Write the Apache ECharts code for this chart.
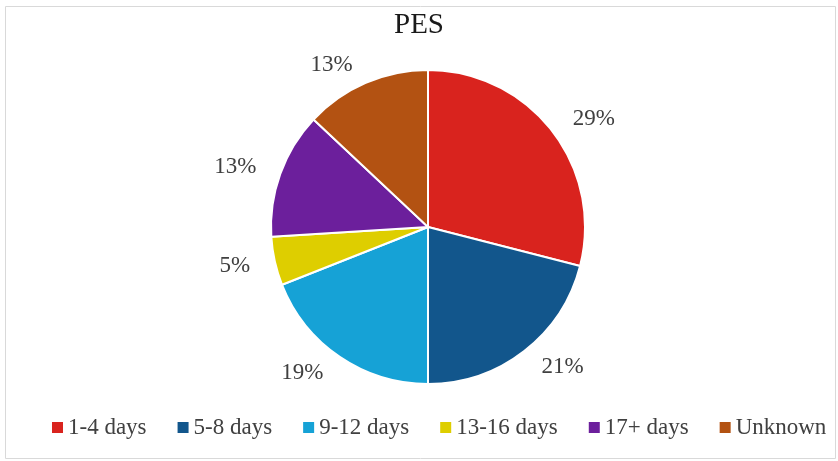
<!DOCTYPE html>
<html>
<head>
<meta charset="utf-8">
<script src="https://cdn.jsdelivr.net/npm/echarts@6/dist/echarts.min.js"></script>
<style>
html,body{margin:0;padding:0;background:#fff;}
#chart{width:838px;height:461px;}
</style>
</head>
<body>
<div id="chart"></div>
<script>
var categories = ['1-4 days', '5-8 days', '9-12 days', '13-16 days', '17+ days', 'Unknown'];
var values = [29, 21, 19, 5, 13, 13];
var colors = ['#D9231E', '#12568C', '#16A2D6', '#DECE00', '#6C1F9C', '#B35212'];

var chart = echarts.init(document.getElementById('chart'), null, {renderer: 'canvas'});
var font = '"Liberation Serif", "DejaVu Serif", serif';
chart.setOption({
  animation: false,
  color: colors,
  graphic: [{
    type: 'rect',
    shape: {x: 5.5, y: 6.5, width: 830, height: 452},
    style: {fill: 'none', stroke: '#d9d9d9', lineWidth: 1},
    silent: true
  }],
  title: {
    text: 'PES',
    left: 'center',
    top: 6,
    textStyle: {fontFamily: font, fontSize: 29, fontWeight: 'normal', color: '#1a1a1a'}
  },
  legend: {
    bottom: 17,
    left: 45,
    padding: 5,
    itemWidth: 13,
    itemHeight: 13,
    itemGap: 29,
    icon: 'rect',
    textStyle: {fontFamily: font, fontSize: 23, color: '#404040', padding: [0, 0, 0, -1]},
    data: categories
  },
  series: [{
    type: 'pie',
    center: [428, 227],
    radius: 157,
    startAngle: 90,
    clockwise: true,
    data: categories.map(function (c, i) { return {name: c, value: values[i]}; }),
    itemStyle: {borderColor: '#fff', borderWidth: 2},
    label: {
      show: true,
      position: 'outside',
      formatter: '{d}%',
      fontFamily: font,
      fontSize: 23,
      color: '#404040'
    },
    labelLine: {show: false, length: 20, length2: 0}
  }]
});
</script>
</body>
</html>
